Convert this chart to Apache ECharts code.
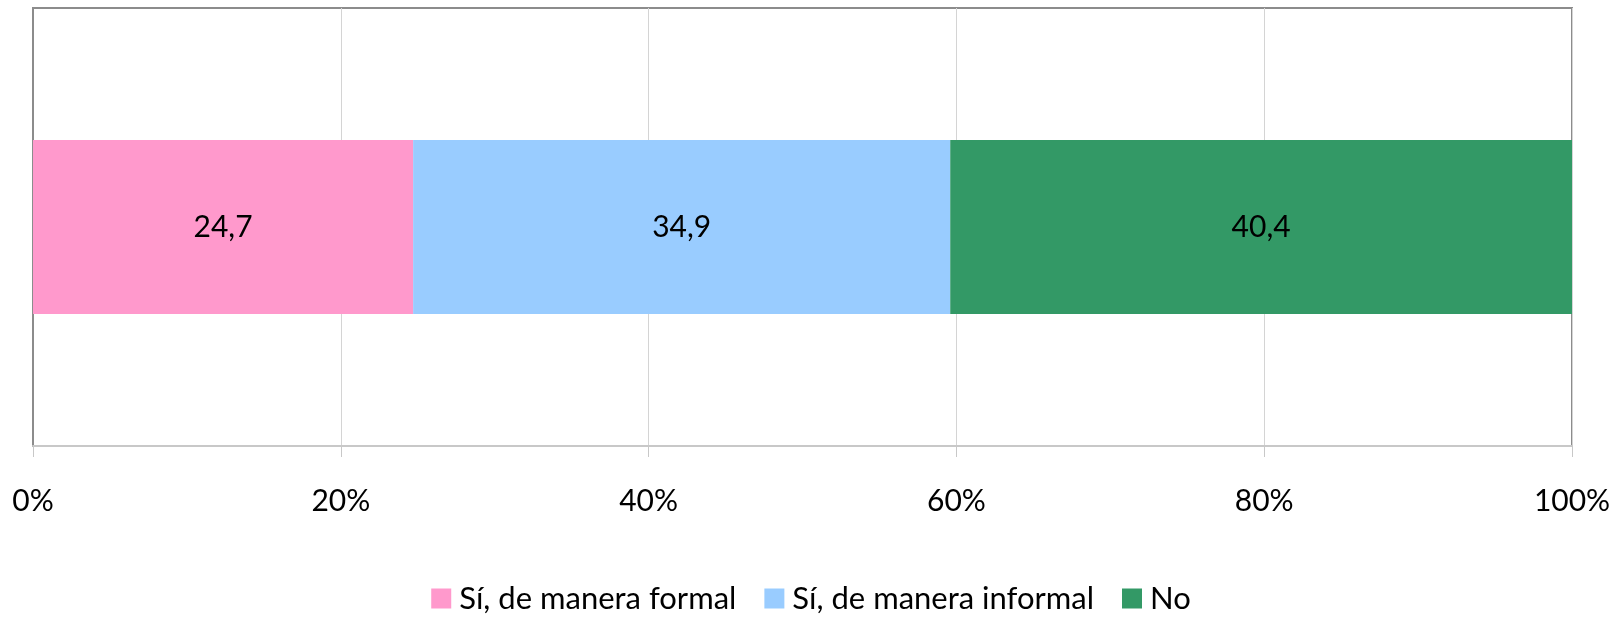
<!DOCTYPE html>
<html>
<head>
<meta charset="utf-8">
<script src="https://cdn.jsdelivr.net/npm/echarts@6/dist/echarts.min.js"></script>
<style>
  html, body { margin: 0; padding: 0; background: #fff; }
  #chart { width: 1622px; height: 620px; }
</style>
</head>
<body>
<div id="chart"></div>
<script>
// datos
var categories = [''];
var seriesNames = ['Sí, de manera formal', 'Sí, de manera informal', 'No'];
var formalData = [24.7];
var informalData = [34.9];
var noData = [40.4];
var xTicks = [0, 20, 40, 60, 80, 100];

var colors = ['#FF99CC', '#99CCFF', '#339966'];
var font = 'Lato, "Open Sans", sans-serif';

function makeSeries(name, data) {
    return {
        name: name,
        type: 'bar',
        stack: 'total',
        barWidth: 174,
        data: data,
        label: {
            show: true,
            position: 'inside',
            color: '#000',
            fontSize: 30,
            fontFamily: font,
            formatter: function (p) { return String(p.value).replace('.', ','); }
        }
    };
}

var chart = echarts.init(document.getElementById('chart'));
chart.setOption({
    animation: false,
    color: colors,
    grid: {
        left: 33, right: 50, top: 8, bottom: 174,
        show: true,
        borderColor: '#8c8c8c',
        borderWidth: 2
    },
    legend: {
        bottom: 1,
        left: 'center',
        icon: 'rect',
        itemWidth: 20,
        itemHeight: 20,
        itemGap: 28,
        textStyle: { fontSize: 31, fontFamily: font, color: '#000', padding: [0, 0, 0, 3] },
        data: seriesNames
    },
    xAxis: {
        type: 'value',
        min: xTicks[0],
        max: xTicks[xTicks.length - 1],
        interval: 20,
        axisLine: { show: true, lineStyle: { color: '#c8c8c8', width: 2 } },
        axisTick: { show: true, length: 11, lineStyle: { color: '#c8c8c8' } },
        splitLine: { show: true, lineStyle: { color: '#d4d4d4', width: 1 } },
        axisLabel: {
            margin: 40,
            fontSize: 30,
            fontFamily: font,
            color: '#000',
            formatter: '{value}%'
        }
    },
    yAxis: {
        type: 'category',
        data: categories,
        axisLine: { show: true, lineStyle: { color: '#8c8c8c', width: 2 } },
        axisTick: { show: false },
        axisLabel: { show: false }
    },
    series: [
        makeSeries(seriesNames[0], formalData),
        makeSeries(seriesNames[1], informalData),
        makeSeries(seriesNames[2], noData)
    ]
});
</script>
</body>
</html>
